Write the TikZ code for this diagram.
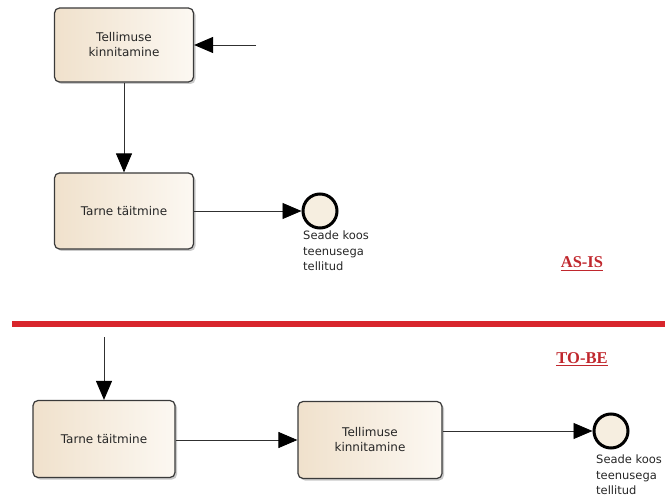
\documentclass[tikz,border=0pt]{standalone}
\usepackage{fontspec}
\setmainfont{DejaVu Sans}
\newfontfamily\headfont{Liberation Serif}
\usetikzlibrary{arrows.meta,shadows,calc}

\definecolor{taskedge}{HTML}{3A3A3A}
\definecolor{taskleft}{HTML}{F0E1CC}
\definecolor{taskmid}{HTML}{F8F0E5}
\definecolor{taskright}{HTML}{FCF8F2}
\definecolor{eventfill}{HTML}{F6EEE0}
\definecolor{flowline}{HTML}{303030}
\definecolor{divider}{HTML}{D8262C}
\definecolor{headred}{HTML}{C0272D}

\tikzset{
  task/.style={
    draw=taskedge, line width=1.2pt, rounded corners=5pt,
    left color=taskleft, middle color=taskmid, right color=taskright,
    shading angle=90,
    drop shadow={shadow xshift=2pt, shadow yshift=-2pt, opacity=0.35, fill=black!60},
    align=center, font=\fontsize{12}{15}\selectfont, text=black!85,
    inner sep=0pt
  },
  endevent/.style={
    circle, draw=black, line width=3pt, fill=eventfill,
    minimum size=34pt, inner sep=0pt
  },
  flow/.style={
    draw=flowline, line width=0.9pt,
    -{Triangle[length=19pt,width=16pt,color=black]}
  },
  eventlabel/.style={
    anchor=north west, align=left, inner sep=0pt,
    font=\fontsize{11.5}{15.5}\selectfont, text=black!85
  },
  phase/.style={
    anchor=base, inner sep=0pt, text=headred,
    font=\headfont\bfseries\fontsize{16.5}{18}\selectfont
  },
  phaseline/.style={draw=headred, line width=1.2pt}
}

\begin{document}
\begin{tikzpicture}[x=1pt, y=-1pt]
  \clip (0,0) rectangle (665,500);

  % current process
  \node[task, minimum width=139pt, minimum height=74pt] (b1) at (124,45) {Tellimuse\\kinnitamine};
  \node[task, minimum width=139pt, minimum height=76pt] (b2) at (124,211) {Tarne täitmine};
  \node[endevent] (e1) at (320,211) {};
  \node[eventlabel] (l1) at (303,231) {Seade koos\\teenusega\\tellitud};
  \coordinate (in1) at (256,45);

  \draw[flow] (in1) -- (b1.east);
  \draw[flow] (b1.south) -- (b2.north);
  \draw[flow] (b2.east) -- (e1.west);

  \node[phase] (asis) at (582,268) {AS-IS};
  \draw[phaseline] ([yshift=-2.5pt]asis.base west) -- ([yshift=-2.5pt]asis.base east);

  % divider between the two versions
  \coordinate (d1) at (12,324);
  \coordinate (d2) at (665,324);
  \draw[divider, line width=6pt] (d1) -- (d2);

  % target process
  \node[phase] (tobe) at (582,363) {TO-BE};
  \draw[phaseline] ([yshift=-2.5pt]tobe.base west) -- ([yshift=-2.5pt]tobe.base east);

  \coordinate (in2) at (104,337);
  \node[task, minimum width=142pt, minimum height=77pt] (b3) at (104,439) {Tarne täitmine};
  \node[task, minimum width=144pt, minimum height=77pt] (b4) at (370,440) {Tellimuse\\kinnitamine};
  \node[endevent] (e2) at (611,431) {};
  \node[eventlabel] (l2) at (596,455) {Seade koos\\teenusega\\tellitud};

  \draw[flow] (in2) -- (b3.north);
  \draw[flow] (b3.east |- b4.west) -- (b4.west);
  \draw[flow] (b4.east |- e2.west) -- (e2.west);
\end{tikzpicture}
\end{document}
